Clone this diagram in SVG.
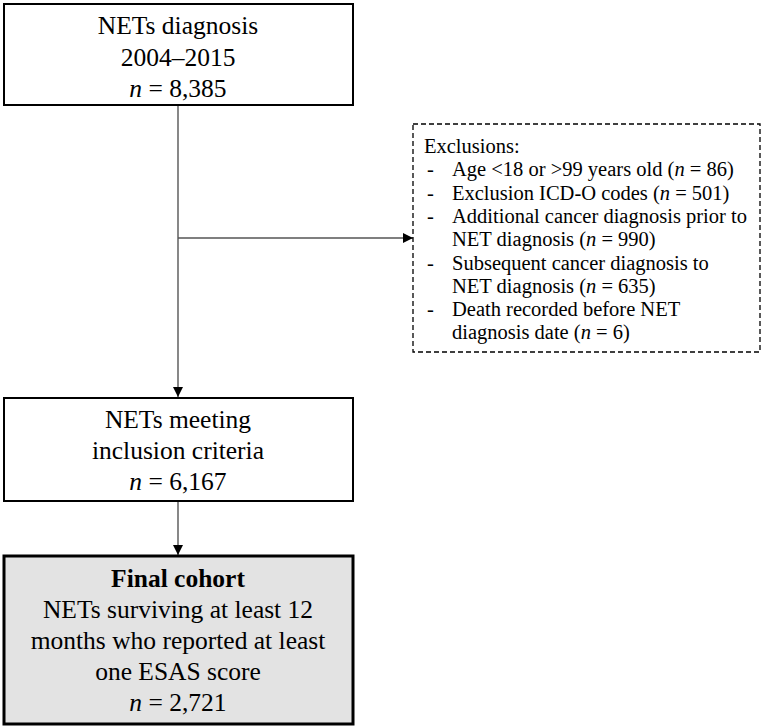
<svg xmlns="http://www.w3.org/2000/svg" width="764" height="728" viewBox="0 0 764 728">
<style>
.box{fill:#ffffff;stroke:#000000;stroke-width:2}
.final{fill:#e3e3e3;stroke:#000000;stroke-width:3}
.dash{fill:#ffffff;stroke:#000000;stroke-width:1.3;stroke-dasharray:5,3}
.t{font-family:"Liberation Serif","Times New Roman",serif;font-size:25.5px;fill:#000000;text-anchor:middle}
.s{font-family:"Liberation Serif","Times New Roman",serif;font-size:20.5px;fill:#000000}
.c{stroke:#555555;stroke-width:1.4;fill:none}
</style>
<defs>
<marker id="ah" viewBox="0 0 10 10" refX="10" refY="5" markerWidth="10" markerHeight="10" markerUnits="userSpaceOnUse" orient="auto">
<path d="M0,0 L10,5 L0,10 Z" fill="#000000"/>
</marker>
</defs>
<rect width="764" height="728" fill="#ffffff"/>
<g id="connectors">
<line class="c" x1="178" y1="105" x2="178" y2="397" marker-end="url(#ah)"/>
<line class="c" x1="178" y1="238" x2="413" y2="238" marker-end="url(#ah)"/>
<line class="c" x1="178" y1="501" x2="178" y2="555" marker-end="url(#ah)"/>
</g>
<g id="node-diagnosis">
<rect class="box" x="4" y="4" width="349" height="101"/>
<text class="t" x="178" y="34">NETs diagnosis</text>
<text class="t" x="178" y="66">2004–2015</text>
<text class="t" x="178" y="97"><tspan font-style="italic">n</tspan> = 8,385</text>
</g>
<g id="node-exclusions">
<rect class="dash" x="413" y="124" width="347" height="228"/>
<text class="s" x="424" y="153">Exclusions:</text>
<text class="s" x="427" y="176.3">-</text><text class="s" x="452" y="176.3">Age &lt;18 or &gt;99 years old (<tspan font-style="italic">n</tspan> = 86)</text>
<text class="s" x="427" y="199.6">-</text><text class="s" x="452" y="199.6">Exclusion ICD-O codes (<tspan font-style="italic">n</tspan> = 501)</text>
<text class="s" x="427" y="222.9">-</text><text class="s" x="452" y="222.9">Additional cancer diagnosis prior to</text>
<text class="s" x="452" y="246.2">NET diagnosis (<tspan font-style="italic">n</tspan> = 990)</text>
<text class="s" x="427" y="269.5">-</text><text class="s" x="452" y="269.5">Subsequent cancer diagnosis to</text>
<text class="s" x="452" y="292.8">NET diagnosis (<tspan font-style="italic">n</tspan> = 635)</text>
<text class="s" x="427" y="316.1">-</text><text class="s" x="452" y="316.1">Death recorded before NET</text>
<text class="s" x="452" y="339.4">diagnosis date (<tspan font-style="italic">n</tspan> = 6)</text>
</g>
<g id="node-inclusion">
<rect class="box" x="4" y="398" width="349" height="103"/>
<text class="t" x="178" y="428">NETs meeting</text>
<text class="t" x="178" y="459">inclusion criteria</text>
<text class="t" x="178" y="490"><tspan font-style="italic">n</tspan> = 6,167</text>
</g>
<g id="node-final">
<rect class="final" x="4" y="556" width="349" height="168"/>
<text class="t" x="178" y="587" font-weight="bold">Final cohort</text>
<text class="t" x="178" y="618">NETs surviving at least 12</text>
<text class="t" x="178" y="649">months who reported at least</text>
<text class="t" x="178" y="680">one ESAS score</text>
<text class="t" x="178" y="711"><tspan font-style="italic">n</tspan> = 2,721</text>
</g>
</svg>
